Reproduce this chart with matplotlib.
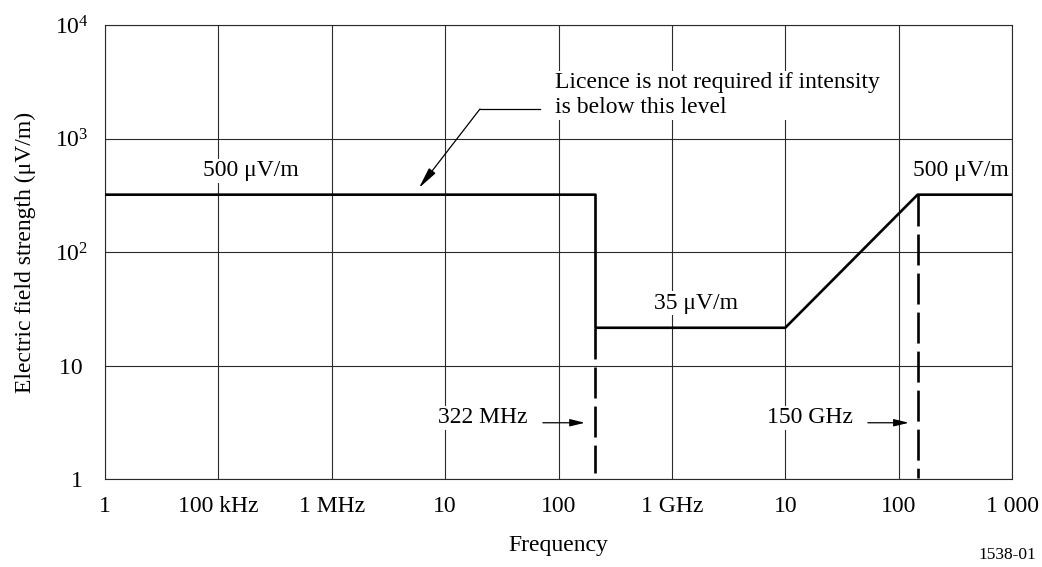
import matplotlib
matplotlib.use("Agg")
import matplotlib.pyplot as plt

plt.rcParams['font.family'] = ['Liberation Serif', 'DejaVu Serif']
plt.rcParams['mathtext.fontset'] = 'custom'
plt.rcParams['mathtext.rm'] = 'Liberation Serif'
plt.rcParams['lines.scale_dashes'] = False

# 限值曲线 (Hz, μV/m)
freq = [1e4, 2.12e8, 2.12e8, 1e10, 1.47e11, 1e12]
level = [320, 320, 21.5, 21.5, 320, 320]

# 两条虚线 (322 MHz, 150 GHz)
cut_freq = [2.12e8, 1.47e11]
cut_top = [21.5, 320]
cut_bottom = [1.13, 1.02]

xtick_pos = [1e4, 1e5, 1e6, 1e7, 1e8, 1e9, 1e10, 1e11, 1e12]
xtick_lab = ['1', '100 kHz', '1 MHz', '10', '100', '1 GHz', '10', '100', '1 000']
ytick_pos = [1, 10, 100, 1000, 10000]
ytick_lab = ['1 ', '10 ', r'$\mathregular{10^{2}}$', r'$\mathregular{10^{3}}$', r'$\mathregular{10^{4}}$']

fs = 17
fig = plt.figure(figsize=(10.42, 5.67), dpi=100)
ax = fig.add_axes([105 / 1042, 1 - 479 / 567, 907 / 1042, 454 / 567])
ax.set_xscale('log')
ax.set_yscale('log')
ax.set_xlim(1e4, 1e12)
ax.set_ylim(1, 1e4)
ax.set_xticks(xtick_pos)
ax.set_xticklabels(xtick_lab, fontsize=fs)
ax.set_yticks(ytick_pos)
ax.set_yticklabels(ytick_lab, fontsize=fs)
ax.minorticks_off()
ax.tick_params(length=0)
ax.tick_params(axis='x', pad=12)
ax.tick_params(axis='y', pad=12)
ax.grid(True, color='#2a2a2a', lw=0.8)
ax.set_axisbelow(True)
for s in ax.spines.values():
    s.set_linewidth(0.8)
    s.set_color('#2a2a2a')

ax.plot(freq, level, color='black', lw=1.9, zorder=3)
for f, t, b in zip(cut_freq, cut_top, cut_bottom):
    ax.plot([f, f], [t, b], color='black', lw=1.9, dashes=(22.3, 5.8), zorder=3)

box = dict(facecolor='white', edgecolor='none', pad=1)
ax.text(1.94e5, 520, '500 μV/m', fontsize=fs, ha='center', va='center', bbox=box, zorder=4)
ax.text(3.54e11, 520, '500 μV/m', fontsize=fs, ha='center', va='center', bbox=box, zorder=4)
ax.text(1.63e9, 35.5, '35 μV/m', fontsize=fs, ha='center', va='center', bbox=box, zorder=4)
ax.text(2.15e7, 3.47, '322 MHz', fontsize=fs, ha='center', va='center', bbox=box, zorder=4)
ax.text(1.66e10, 3.47, '150 GHz', fontsize=fs, ha='center', va='center', bbox=box, zorder=4)
ax.text(9.3e7, 2400, 'Licence is not required if intensity\nis below this level', fontsize=fs,
        ha='left', va='center', linespacing=1.25, bbox=box, zorder=4)

arrow = dict(arrowstyle='-|>,head_length=0.9,head_width=0.22', color='black', lw=0.9,
             shrinkA=0, shrinkB=0)
ax.annotate('', xy=(1.71e8, 3.13), xytext=(7.28e7, 3.13), arrowprops=arrow, zorder=5)
ax.annotate('', xy=(1.23e11, 3.13), xytext=(5.35e10, 3.13), arrowprops=arrow, zorder=5)
ax.plot([6.86e7, 2.03e7], [1820, 1820], color='black', lw=0.9, zorder=5)
ax.annotate('', xy=(5.87e6, 366), xytext=(2.03e7, 1820),
            arrowprops=dict(arrowstyle='-|>,head_length=1.3,head_width=0.25', color='black',
                            lw=0.9, shrinkA=0, shrinkB=0), zorder=5)

ax.set_xlabel('Frequency', fontsize=fs, labelpad=13)
ax.set_ylabel('Electric field strength (μV/m)', fontsize=fs)
ax.yaxis.set_label_coords(-0.076, 0.5)
fig.text(1007 / 1042, 1 - 555 / 567, '1538-01', fontsize=12.5, ha='center', va='center')

fig.savefig('out.png', dpi=100)
